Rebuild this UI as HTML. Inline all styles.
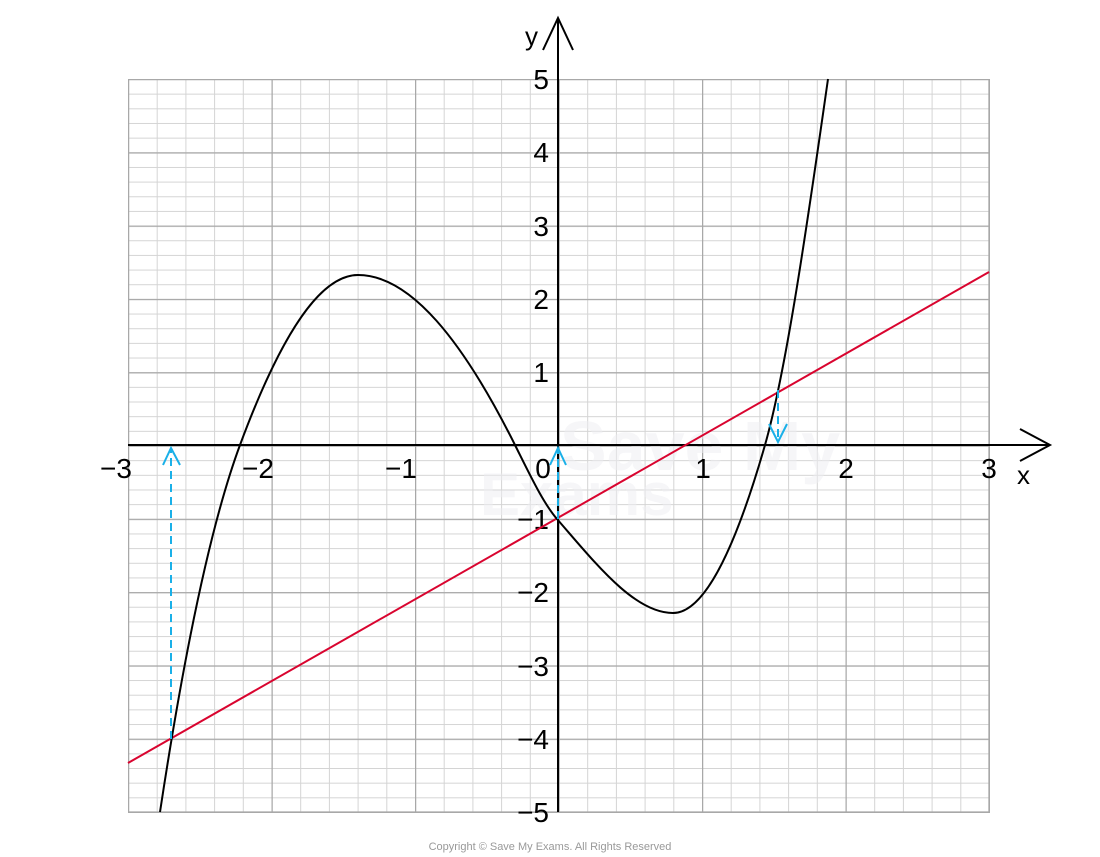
<!DOCTYPE html>
<html><head><style>body{margin:0;background:#fff}svg{display:block}</style></head><body>
<svg width="1100" height="857" xmlns="http://www.w3.org/2000/svg" font-family="Liberation Sans, DejaVu Sans, sans-serif">
<defs>
<pattern id="minor" x="128" y="79" width="28.7" height="14.66" patternUnits="userSpaceOnUse">
<path d="M0.5,0 V14.66 M0,0.5 H28.7" fill="none" stroke="#d4d4d4" stroke-width="1"/>
</pattern>
<pattern id="major" x="128" y="79" width="143.5" height="73.3" patternUnits="userSpaceOnUse">
<path d="M0.6,0 V73.3 M0,0.6 H143.5" fill="none" stroke="#a8a8a8" stroke-width="1.3"/>
</pattern>
</defs>
<rect x="128" y="79" width="862" height="734" fill="url(#minor)"/>
<rect x="128" y="79" width="862" height="734" fill="url(#major)"/>
<line x1="989" y1="79" x2="989" y2="812" stroke="#a8a8a8" stroke-width="1.3"/>
<line x1="128" y1="812" x2="989" y2="812" stroke="#a8a8a8" stroke-width="1.3"/>
<text x="560" y="470" font-size="70" fill="#eeeef2" font-weight="bold" opacity="0.5">Save My</text>
<text x="480" y="515" font-size="60" fill="#eeeef2" font-weight="bold" opacity="0.5">Exams</text>
<line x1="128" y1="445" x2="1050" y2="445" stroke="#000" stroke-width="2"/>
<polyline points="1020,429 1050,445 1020,461" fill="none" stroke="#000" stroke-width="2"/>
<line x1="558" y1="812" x2="558" y2="18" stroke="#000" stroke-width="2"/>
<polyline points="543,50 558,18 573,50" fill="none" stroke="#000" stroke-width="2"/>
<text x="525" y="45" font-size="26">y</text>
<text x="1017" y="484" font-size="26">x</text>
<g font-size="28" text-anchor="middle">
<text x="116" y="478">−3</text><text x="258" y="478">−2</text><text x="401" y="478">−1</text>
<text x="543" y="478">0</text><text x="703" y="478">1</text><text x="846" y="478">2</text><text x="989" y="478">3</text>
</g>
<g font-size="28" text-anchor="end">
<text x="549" y="89">5</text><text x="549" y="162">4</text><text x="549" y="236">3</text><text x="549" y="309">2</text><text x="549" y="382">1</text>
<text x="549" y="529">−1</text><text x="549" y="602">−2</text><text x="549" y="676">−3</text><text x="549" y="749">−4</text><text x="549" y="822">−5</text>
</g>
<line x1="128" y1="763" x2="989" y2="272" stroke="#d9042f" stroke-width="2"/>
<path fill="none" stroke="#000" stroke-width="2" d="M160,812 C186.7,636 213.3,517 240,445 C279.3,339 318.7,275 358,275 C410.3,275 462.7,340.3 515,445 C529,473 543,502.9 557,519 C595.7,563.5 634.3,613 673,613 C703.7,613 734.3,552 765,445 C786,371.5 807,226 828,79"/>
<g stroke="#1ab0e8" stroke-width="2" fill="none">
<line x1="171" y1="739" x2="171" y2="448" stroke-dasharray="8,5"/>
<polyline points="163,465 171,448 180,465"/>
<line x1="558" y1="519" x2="558" y2="448" stroke-dasharray="8,5"/>
<polyline points="550,465 558,448 566,465"/>
<line x1="778" y1="390" x2="778" y2="442" stroke-dasharray="8,5"/>
<polyline points="769,424 778,442 787,424"/>
</g>
<text x="550" y="850" font-size="11" fill="#999" text-anchor="middle">Copyright © Save My Exams. All Rights Reserved</text>
</svg>
</body></html>
